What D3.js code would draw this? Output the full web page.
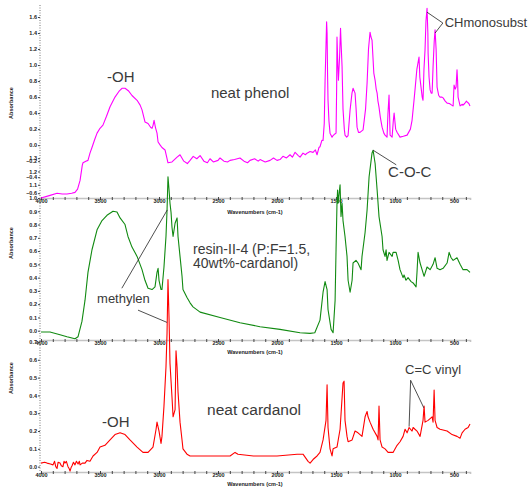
<!DOCTYPE html>
<html>
<head>
<meta charset="utf-8">
<script src="https://cdn.jsdelivr.net/npm/d3@7"></script>
<style>
  html, body { margin: 0; padding: 0; background: #fff; }
  svg { display: block; }
  text { font-family: "Liberation Sans", Arial, sans-serif; }
</style>
</head>
<body>
<div id="chart"></div>
<script>
// FTIR spectra: [wavenumber (cm-1), absorbance]
const phenolSpectrum = [
  [4000,-0.66],[3930,-0.63],[3864,-0.60],[3820,-0.61],[3780,-0.61],[3740,-0.60],[3712,-0.59],
  [3690,-0.55],[3669,-0.44],[3650,-0.25],[3644,-0.22],[3620,-0.20],[3602,-0.19],[3585,-0.10],
  [3568,-0.03],[3545,0.07],[3525,0.15],[3500,0.21],[3475,0.25],[3445,0.36],[3415,0.48],
  [3373,0.60],[3340,0.67],[3314,0.71],[3288,0.71],[3260,0.68],[3229,0.62],[3186,0.56],
  [3160,0.50],[3144,0.44],[3119,0.29],[3093,0.27],[3070,0.22],[3059,0.21],[3050,0.25],
  [3042,0.31],[3030,0.22],[3017,0.15],[3008,0.04],[2990,0.00],[2975,-0.03],[2949,-0.06],
  [2935,-0.15],[2924,-0.22],[2890,-0.21],[2847,-0.15],[2822,-0.12],[2790,-0.20],[2760,-0.23],
  [2737,-0.19],[2710,-0.14],[2680,-0.17],[2652,-0.13],[2620,-0.20],[2590,-0.22],[2568,-0.17],
  [2540,-0.21],[2500,-0.19],[2483,-0.16],[2450,-0.20],[2420,-0.21],[2398,-0.19],[2360,-0.18],
  [2314,-0.16],[2280,-0.20],[2250,-0.22],[2229,-0.19],[2190,-0.17],[2160,-0.20],[2144,-0.18],
  [2100,-0.21],[2059,-0.19],[2030,-0.16],[2000,-0.19],[1975,-0.18],[1950,-0.14],[1920,-0.16],
  [1890,-0.12],[1870,-0.15],[1847,-0.09],[1820,-0.13],[1805,-0.15],[1780,-0.10],[1760,-0.12],
  [1746,-0.10],[1720,-0.08],[1695,-0.09],[1675,-0.06],[1661,-0.12],[1645,-0.03],[1636,-0.02],
  [1620,0.06],[1610,0.06],[1600,0.27],[1593,0.80],[1585,1.25],[1580,1.54],[1576,1.40],
  [1572,0.90],[1568,0.56],[1560,0.30],[1551,0.15],[1534,0.10],[1525,0.12],[1510,0.14],
  [1500,0.15],[1495,0.70],[1492,1.35],[1485,1.00],[1480,0.81],[1470,1.10],[1462,1.46],
  [1458,1.30],[1449,0.98],[1441,0.45],[1430,0.20],[1424,0.125],[1410,0.10],[1398,0.12],
  [1381,0.44],[1365,0.65],[1356,0.71],[1339,0.65],[1330,0.45],[1322,0.225],[1310,0.16],
  [1297,0.16],[1271,0.19],[1250,0.45],[1237,0.775],[1225,1.20],[1212,1.41],[1204,1.35],
  [1195,1.31],[1180,0.90],[1169,0.81],[1160,0.70],[1152,0.65],[1145,0.55],[1136,0.475],
  [1125,0.35],[1110,0.225],[1095,0.15],[1085,0.125],[1068,0.10],[1060,0.40],[1051,0.625],
  [1046,0.35],[1042,0.125],[1025,0.10],[1015,0.30],[1008,0.40],[995,0.20],[983,0.16],
  [958,0.10],[930,0.11],[898,0.125],[870,0.20],[856,0.31],[840,0.55],[831,0.69],[815,0.95],
  [797,1.10],[790,0.85],[780,0.725],[770,0.60],[763,0.56],[755,0.95],[746,1.19],[738,1.55],
  [729,1.71],[722,1.40],[720,1.15],[712,0.85],[703,0.69],[694,0.65],[686,0.65],[678,0.975],
  [668,1.30],[661,1.44],[652,1.19],[644,0.725],[630,0.62],[619,0.60],[605,0.60],[593,0.59],
  [575,0.55],[559,0.525],[540,0.52],[520,0.50],[508,0.49],[500,0.75],[490,0.70],[483,0.725],
  [475,0.94],[470,0.80],[466,0.60],[449,0.49],[430,0.51],[424,0.50],[410,0.52],[395,0.55],
  [390,0.54],[375,0.52],[365,0.49]
];

const resinSpectrum = [
  [4000,-0.01],[3924,-0.01],[3839,-0.03],[3780,-0.045],[3712,-0.06],[3686,-0.045],[3653,0.07],
  [3627,0.23],[3602,0.44],[3568,0.61],[3525,0.76],[3483,0.83],[3441,0.87],[3390,0.90],
  [3356,0.895],[3330,0.85],[3288,0.80],[3263,0.71],[3229,0.63],[3186,0.56],[3144,0.46],
  [3119,0.38],[3093,0.32],[3059,0.31],[3034,0.33],[3017,0.44],[3008,0.47],[3000,0.38],
  [2983,0.31],[2975,0.31],[2958,0.48],[2941,0.71],[2932,0.91],[2924,1.16],[2915,1.06],
  [2907,0.96],[2898,0.89],[2890,0.78],[2881,0.71],[2864,0.81],[2847,0.85],[2839,0.71],
  [2822,0.56],[2805,0.41],[2797,0.31],[2763,0.25],[2737,0.21],[2712,0.18],[2652,0.14],
  [2483,0.10],[2314,0.06],[2144,0.03],[1975,0.01],[1805,-0.015],[1720,-0.02],[1680,-0.015],
  [1636,0.08],[1610,0.29],[1593,0.37],[1576,0.31],[1568,0.16],[1542,0.01],[1525,-0.015],
  [1508,0.23],[1500,0.61],[1492,0.96],[1487,1.06],[1483,0.96],[1466,1.10],[1458,0.86],
  [1449,0.96],[1441,0.83],[1424,0.71],[1407,0.56],[1398,0.38],[1381,0.29],[1364,0.38],
  [1356,0.51],[1331,0.53],[1314,0.51],[1288,0.46],[1280,0.56],[1254,0.74],[1237,0.91],
  [1220,1.16],[1195,1.34],[1186,1.36],[1169,1.26],[1152,1.06],[1136,0.86],[1110,0.71],
  [1102,0.61],[1085,0.56],[1076,0.61],[1068,0.53],[1051,0.59],[1025,0.56],[1017,0.59],
  [991,0.59],[974,0.53],[958,0.46],[932,0.40],[924,0.42],[907,0.38],[890,0.40],[864,0.37],
  [847,0.36],[822,0.33],[814,0.44],[805,0.59],[788,0.51],[771,0.46],[754,0.41],[729,0.48],
  [703,0.46],[678,0.50],[661,0.55],[644,0.47],[619,0.46],[593,0.47],[559,0.51],[542,0.59],
  [525,0.55],[508,0.53],[475,0.55],[449,0.50],[424,0.46],[390,0.46],[365,0.44]
];

const cardanolSpectrum = [
  [4000,0.02],[3970,0.025],[3949,0.02],[3920,0.015],[3898,0.01],[3885,0.03],[3875,0.00],
  [3864,-0.01],[3855,0.025],[3839,0.02],[3828,0.005],[3814,0.00],[3805,0.03],[3797,0.02],
  [3785,0.03],[3771,0.00],[3762,-0.01],[3754,-0.025],[3745,-0.005],[3737,0.005],[3725,0.025],
  [3712,0.01],[3700,0.03],[3686,0.015],[3675,0.03],[3669,0.01],[3650,0.02],[3627,0.02],
  [3610,0.035],[3585,0.03],[3559,0.06],[3525,0.08],[3500,0.11],[3458,0.12],[3415,0.15],
  [3373,0.18],[3330,0.19],[3288,0.18],[3246,0.15],[3186,0.11],[3136,0.08],[3093,0.08],
  [3051,0.11],[3025,0.21],[3017,0.25],[3000,0.20],[2983,0.13],[2975,0.17],[2958,0.34],
  [2941,0.56],[2932,0.75],[2924,1.05],[2915,0.83],[2907,0.58],[2890,0.39],[2881,0.28],
  [2864,0.32],[2856,0.65],[2847,0.56],[2839,0.42],[2822,0.25],[2805,0.15],[2797,0.10],
  [2763,0.07],[2737,0.06],[2600,0.06],[2398,0.06],[2356,0.08],[2331,0.07],[2200,0.06],
  [2000,0.06],[1830,0.07],[1780,0.07],[1737,0.03],[1720,0.02],[1695,0.04],[1661,0.06],
  [1636,0.08],[1610,0.15],[1585,0.26],[1576,0.46],[1568,0.22],[1551,0.10],[1534,0.06],
  [1525,0.10],[1492,0.11],[1466,0.21],[1441,0.47],[1432,0.48],[1424,0.26],[1407,0.17],
  [1398,0.14],[1364,0.15],[1339,0.20],[1314,0.19],[1280,0.17],[1254,0.28],[1237,0.31],
  [1229,0.28],[1212,0.25],[1186,0.21],[1152,0.17],[1144,0.15],[1136,0.34],[1127,0.15],
  [1110,0.11],[1085,0.10],[1059,0.08],[1017,0.08],[983,0.12],[958,0.14],[932,0.17],
  [915,0.21],[898,0.19],[881,0.22],[856,0.20],[847,0.22],[831,0.21],[814,0.20],[788,0.17],
  [763,0.26],[754,0.34],[746,0.25],[720,0.26],[686,0.28],[678,0.25],[669,0.43],[661,0.26],
  [644,0.22],[619,0.21],[559,0.20],[517,0.18],[475,0.17],[449,0.16],[432,0.19],[407,0.21],
  [381,0.22],[365,0.24]
];

// axis ticks
const xMajorTicks = [4000, 3500, 3000, 2500, 2000, 1500, 1000, 500];
const xMinorTicks = d3.range(4000, 365, -100);
const phenolYTicks = [-0.6, -0.4, -0.2, 0.0, 0.2, 0.4, 0.6, 0.8, 1.0, 1.2, 1.4, 1.6];
const resinYTicks = [0.0, 0.1, 0.2, 0.3, 0.4, 0.5, 0.6, 0.7, 0.8, 0.9, 1.0, 1.1, 1.2, 1.3];
const cardanolYTicks = [0.0, 0.1, 0.2, 0.3, 0.4, 0.5, 0.6, 0.7];

const W = 528, H = 488;
const svg = d3.select("#chart").append("svg").attr("width", W).attr("height", H);

const x = d3.scaleLinear().domain([4000, 365]).range([41, 470]);

const panels = [
  { data: phenolSpectrum, color: "#ff00ff", y: d3.scaleLinear().domain([-0.66, 1.75]).range([198, 5]),
    yTicks: phenolYTicks, axisY: 198, axisTop: 5, titleY: 103, xLabelY: 214 },
  { data: resinSpectrum, color: "#118a11", y: d3.scaleLinear().domain([-0.07, 1.0]).range([340, 198]),
    yTicks: resinYTicks, axisY: 340, axisTop: 198, titleY: 243, xLabelY: 354 },
  { data: cardanolSpectrum, color: "#ff0000", y: d3.scaleLinear().domain([-0.03, 0.7]).range([472, 342]),
    yTicks: cardanolYTicks, axisY: 472, axisTop: 340, titleY: 378, xLabelY: 486 }
];

const fmt = d3.format(".1f");

// axes first, spectra on top
panels.forEach(p => {
  // x axis
  const xa = svg.append("g").attr("transform", `translate(0,${p.axisY})`)
    .call(d3.axisBottom(x).tickValues(xMinorTicks).tickSize(2)
      .tickFormat(d => xMajorTicks.includes(d) ? d : ""));
  xa.select(".domain").attr("stroke", "#c4c4c4").attr("stroke-width", 1.6);
  xa.selectAll(".tick line").attr("stroke", "#444").attr("y1", -1);
  xa.selectAll(".tick text").attr("dy", "0.55em").attr("y", 2)
    .attr("font-size", 5.5).attr("font-weight", "bold").attr("fill", "#222");

  svg.append("text").attr("x", 255).attr("y", p.xLabelY).attr("text-anchor", "middle")
    .attr("font-size", 5.5).attr("font-weight", "bold").attr("fill", "#222")
    .text("Wavenumbers (cm-1)");

  // y axis
  const ya = svg.append("g").attr("transform", "translate(40,0)")
    .call(d3.axisLeft(p.y).tickValues(p.yTicks).tickSize(2).tickFormat(fmt));
  ya.select(".domain").remove();
  ya.selectAll(".tick line").attr("stroke", "#444");
  ya.selectAll(".tick text").attr("font-size", 5.5).attr("font-weight", "bold").attr("fill", "#222").attr("x", -3);
  svg.append("line").attr("x1", 40).attr("x2", 40).attr("y1", p.axisTop).attr("y2", p.axisY)
    .attr("stroke", "#777").attr("stroke-width", 1).attr("stroke-dasharray", "1,1.5");

  svg.append("text").attr("transform", `translate(13,${p.titleY}) rotate(-90)`)
    .attr("text-anchor", "middle").attr("font-size", 5.5).attr("font-weight", "bold").attr("fill", "#222")
    .text("Absorbance");
});

panels.forEach(p => {
  const line = d3.line().x(d => x(d[0])).y(d => p.y(d[1]));
  svg.append("path").datum(p.data).attr("d", line)
    .attr("fill", "none").attr("stroke", p.color).attr("stroke-width", 1.1)
    .attr("stroke-linejoin", "round");
});

// annotations
const [pPh, pRe, pCa] = panels;
const txtColor = "#3a3a3a";
function label(panel, w, a, str, size) {
  svg.append("text").attr("x", x(w)).attr("y", panel.y(a))
    .attr("font-size", size).attr("fill", txtColor).text(str);
}
function leader(p1, w1, a1, p2, w2, a2) {
  svg.append("line").attr("x1", x(w1)).attr("y1", p1.y(a1)).attr("x2", x(w2)).attr("y2", p2.y(a2))
    .attr("stroke", "#222").attr("stroke-width", 0.8);
}

label(pPh, 3441, 0.79, "-OH", 15);
label(pPh, 2560, 0.59, "neat phenol", 15);
label(pPh, 580, 1.475, "CHmonosubst", 13);
leader(pPh, 595, 1.525, pPh, 729, 1.66);
leader(pPh, 595, 1.525, pPh, 661, 1.40);

label(pRe, 1059, 1.16, "C-O-C", 15);
leader(pRe, 1186, 1.36, pRe, 990, 1.25);

label(pRe, 2712, 0.58, "resin-II-4 (P:F=1.5,", 14);
label(pRe, 2712, 0.47, "40wt%-cardanol)", 14);
label(pRe, 3525, 0.21, "methylen", 13);
leader(pRe, 3315, 0.32, pRe, 2930, 0.91);
leader(pRe, 3178, 0.155, pCa, 2932, 0.81);

label(pCa, 3483, 0.225, "-OH", 15);
label(pCa, 2593, 0.29, "neat cardanol", 15.5);
label(pCa, 915, 0.52, "C=C vinyl", 13);
leader(pCa, 868, 0.485, pCa, 881, 0.225);
leader(pCa, 868, 0.485, pCa, 756, 0.33);
</script>
</body>
</html>
